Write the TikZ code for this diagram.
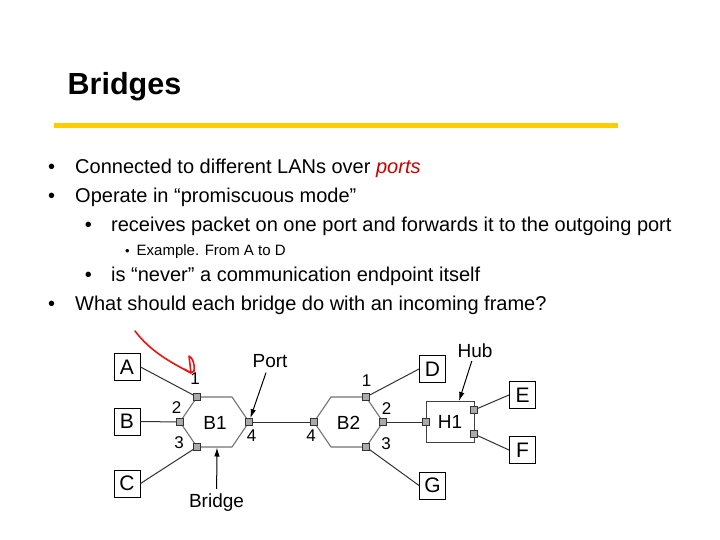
\documentclass[tikz,border=0pt]{standalone}
\usepackage{fontspec}
\setmainfont{Liberation Sans}
\usetikzlibrary{arrows.meta}
\definecolor{slideyellow}{RGB}{255,204,0}
\definecolor{portgray}{RGB}{170,170,170}
\definecolor{linegray}{RGB}{50,50,50}
\definecolor{inkred}{RGB}{235,20,20}
\definecolor{textred}{RGB}{204,0,0}
\tikzset{
  slidetitle/.style={anchor=base west, inner sep=0pt, font=\fontsize{30.5}{36}\selectfont\bfseries},
  slidetext/.style={anchor=base west, inner sep=0pt, font=\fontsize{20}{24}\selectfont},
  subtext/.style={anchor=base west, inner sep=0pt, font=\fontsize{15}{18}\selectfont},
  bullet/.style={anchor=base, inner sep=0pt, font=\fontsize{20}{24}\selectfont},
  subbullet/.style={anchor=base, inner sep=0pt, font=\fontsize{13}{16}\selectfont},
  host/.style={draw=black, line width=1pt, minimum width=26pt, minimum height=27pt, inner sep=0pt, font=\fontsize{21}{22}\selectfont},
  hub/.style={draw=black!75, line width=0.9pt, minimum width=48pt, minimum height=41pt, inner sep=0pt, font=\fontsize{19}{20}\selectfont},
  port/.style={draw=black!80, fill=portgray, line width=0.7pt, minimum size=7pt, inner sep=0pt},
  portnum/.style={inner sep=0pt, font=\fontsize{17}{18}\selectfont},
  tag/.style={inner sep=0pt, font=\fontsize{19}{20}\selectfont},
  hexedge/.style={draw=black!55, line width=1.1pt, line join=round},
  link/.style={draw=linegray, line width=1pt},
  pointer/.style={draw=black, line width=1pt, shorten <=5pt, -{Latex[length=9pt,width=5.5pt]}},
  scribble/.style={draw=inkred, line width=1.6pt, line cap=round, line join=round}
}
% bridge outline: centre x, centre y (in px, y downwards)
\newcommand{\hexbridge}[2]{
  \draw[hexedge] (#1-34.5,#2) -- (#1-17.5,#2-25) -- (#1+17.5,#2-25)
    -- (#1+34.5,#2) -- (#1+17.5,#2+25) -- (#1-17.5,#2+25) -- cycle;
}

\begin{document}
\begin{tikzpicture}[x=1pt, y=-1pt]
  \useasboundingbox (0,0) rectangle (720,540);
  \fill[white] (0,0) rectangle (720,540);

  % title and rule
  \node[slidetitle] (title) at (67.5,95) {Bridges};
  \draw[slideyellow, line width=5pt] (54,125.8) -- (618,125.8);

  % bullet list
  \node[bullet] (dot1) at (51.7,173.3) {•};
  \node[slidetext] (line1) at (75,173.3) {Connected to different LANs over \textcolor{textred}{\itshape ports}};
  \node[bullet] (dot2) at (51.7,202.7) {•};
  \node[slidetext] (line2) at (75,202.7) {Operate in “promiscuous mode”};
  \node[bullet] (dot3) at (88.3,231.7) {•};
  \node[slidetext] (line3) at (111,231.7) {receives packet on one port and forwards it to the outgoing port};
  \node[subbullet] (dot4) at (127.3,255) {•};
  \node[subtext] (line4) at (136.5,255) {Example. From A to D};
  \node[bullet] (dot5) at (88.3,281.5) {•};
  \node[slidetext] (line5) at (111,281.5) {is “never” a communication endpoint itself};
  \node[bullet] (dot6) at (51.7,310) {•};
  \node[slidetext] (line6) at (75,310) {What should each bridge do with an incoming frame?};

  % bridges
  \hexbridge{214.5}{422}
  \hexbridge{348.5}{422}
  \node[hub] (h1) at (450,421.5) {H1};
  \node[tag] (b1) at (215,423) {B1};
  \node[tag] (b2) at (348.5,423) {B2};

  % ports
  \foreach \nm/\x/\y in {b1p1/197/397, b1p2/180/422, b1p3/197/447, b1p4/249/422,
                         b2p1/366/397, b2p2/383/422, b2p3/366/447, b2p4/314/422,
                         h1p0/426/422, h1p1/474/410, h1p2/474/434}
    \node[port] (\nm) at (\x,\y) {};

  % port numbers
  \foreach \nm/\lbl/\x/\y in {n11/1/195/379, n12/2/176.5/407.5, n13/3/179/442.5, n14/4/251.5/435.5,
                              n21/1/366.5/381, n22/2/386.5/409, n23/3/386/444, n24/4/311/435.5}
    \node[portnum] (\nm) at (\x,\y) {\lbl};

  % stations
  \foreach \nm/\lbl/\x/\y in {a/A/127/367, b/B/127/421.5, c/C/127/483.5,
                              d/D/432.5/369, g/G/432.5/485.5, e/E/522.5/395, f/F/522.5/450}
    \node[host] (\nm) at (\x,\y) {\lbl};

  % cables
  \draw[link] (a.east) -- (b1p1);
  \draw[link] (b.east) -- (b1p2);
  \draw[link] (c.east) -- (b1p3);
  \draw[link] (b1p4) -- (b2p4);
  \draw[link] (b2p1) -- (d.west);
  \draw[link] (b2p2) -- (h1p0);
  \draw[link] (b2p3) -- (g.west);
  \draw[link] (h1p1) -- (e.west);
  \draw[link] (h1p2) -- (f.west);

  % callouts
  \node[tag] (portlbl) at (270,361) {Port};
  \node[tag] (bridgelbl) at (216.5,503) {Bridge};
  \node[tag] (hublbl) at (475,351) {Hub};
  \coordinate (bridgetip) at (217,447.5);
  \coordinate (hubtip) at (459,401);
  \draw[pointer] (portlbl) -- (b1p4);
  \draw[pointer] (bridgelbl) -- (bridgetip);
  \draw[pointer, shorten <=3pt] (hublbl) -- (hubtip);

  % red pen mark
  \draw[scribble] (135,331) .. controls (150,351) and (170,362) .. (191,373);
  \draw[scribble] (184,369) -- (191,373) -- (189,356) .. controls (193,358) and (195,365) .. (194,371) -- (191,373);
\end{tikzpicture}
\end{document}
